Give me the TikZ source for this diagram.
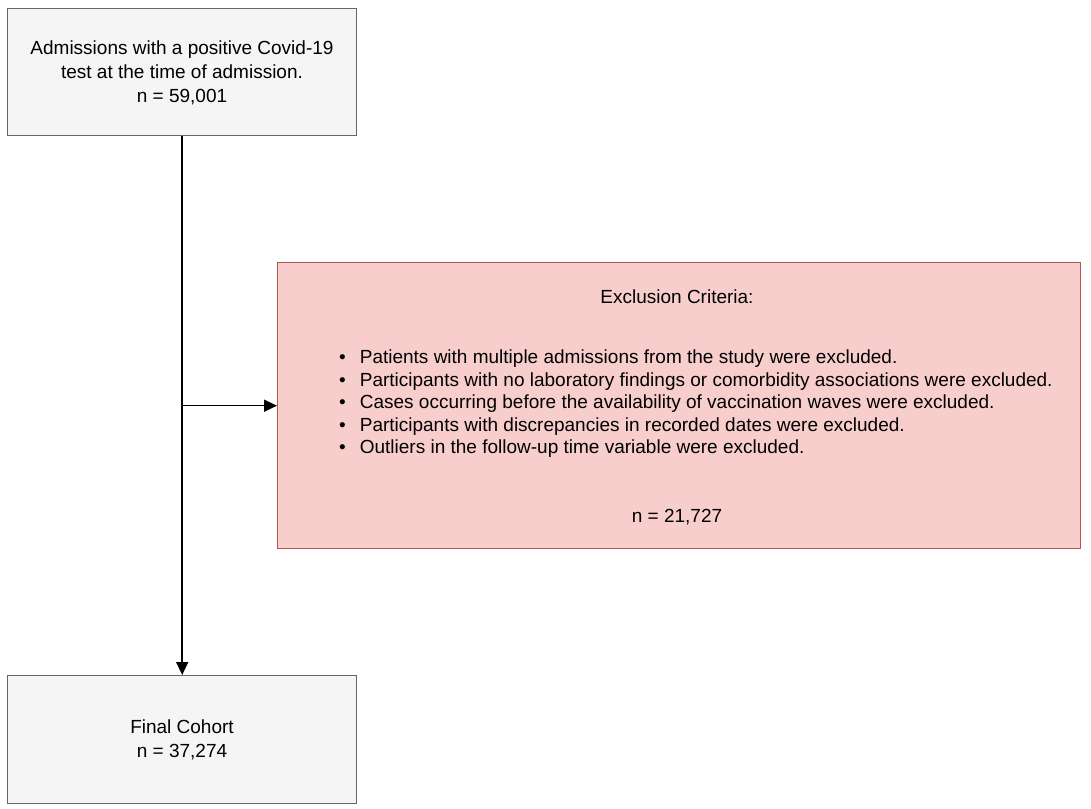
\documentclass[tikz,border=0pt]{standalone}
\usepackage{fontspec}
\setmainfont{Liberation Sans}
\usetikzlibrary{arrows.meta}
\definecolor{greyfill}{HTML}{F5F5F5}
\definecolor{greyline}{HTML}{666666}
\definecolor{redfill}{HTML}{F8CECC}
\definecolor{redline}{HTML}{B85450}
\tikzset{
  greybox/.style={draw=greyline, fill=greyfill, line width=1.4pt, anchor=north west, inner sep=0pt},
  redbox/.style={draw=redline, fill=redfill, line width=1.4pt, anchor=north west, inner sep=0pt},
  txt/.style={font=\fontsize{19}{24}\selectfont, align=center, inner sep=0pt},
  rtxt/.style={font=\fontsize{19}{22.5}\selectfont, inner sep=0pt},
  conn/.style={line width=1.5pt, draw=black},
  arr/.style={conn, -{Triangle[length=13pt, width=12pt]}}
}
\begin{document}
\begin{tikzpicture}[x=1pt, y=-1pt]
\useasboundingbox (0,0) rectangle (1091,808);
\node[greybox, minimum width=349pt, minimum height=127pt] (top) at (7,8) {};
\node[txt] (toptext) at (182,73) {Admissions with a positive Covid-19\\test at the time of admission.\\n = 59,001};
\node[greybox, minimum width=349pt, minimum height=128pt] (final) at (7,675) {};
\node[txt] (finaltext) at (182,740) {Final Cohort\\n = 37,274};
\node[redbox, minimum width=803pt, minimum height=286pt] (excl) at (277,262) {};
\node[rtxt, anchor=base] (title) at (677,303) {Exclusion Criteria:};
\node[rtxt, anchor=north west] (list) at (339,348) {%
\def\arraystretch{1}%
\begin{tabular}{@{}l@{\hspace{14pt}}l@{}}
\textbullet & Patients with multiple admissions from the study were excluded.\\
\textbullet & Participants with no laboratory findings or comorbidity associations were excluded.\\
\textbullet & Cases occurring before the availability of vaccination waves were excluded.\\
\textbullet & Participants with discrepancies in recorded dates were excluded.\\
\textbullet & Outliers in the follow-up time variable were excluded.
\end{tabular}};
\node[rtxt, anchor=base] (ntext) at (677,522) {n = 21,727};
\coordinate (branch) at (top.south |- excl.west);
\draw[arr] (top.south) -- (final.north);
\draw[arr] (branch) -- (excl.west);
\end{tikzpicture}
\end{document}
